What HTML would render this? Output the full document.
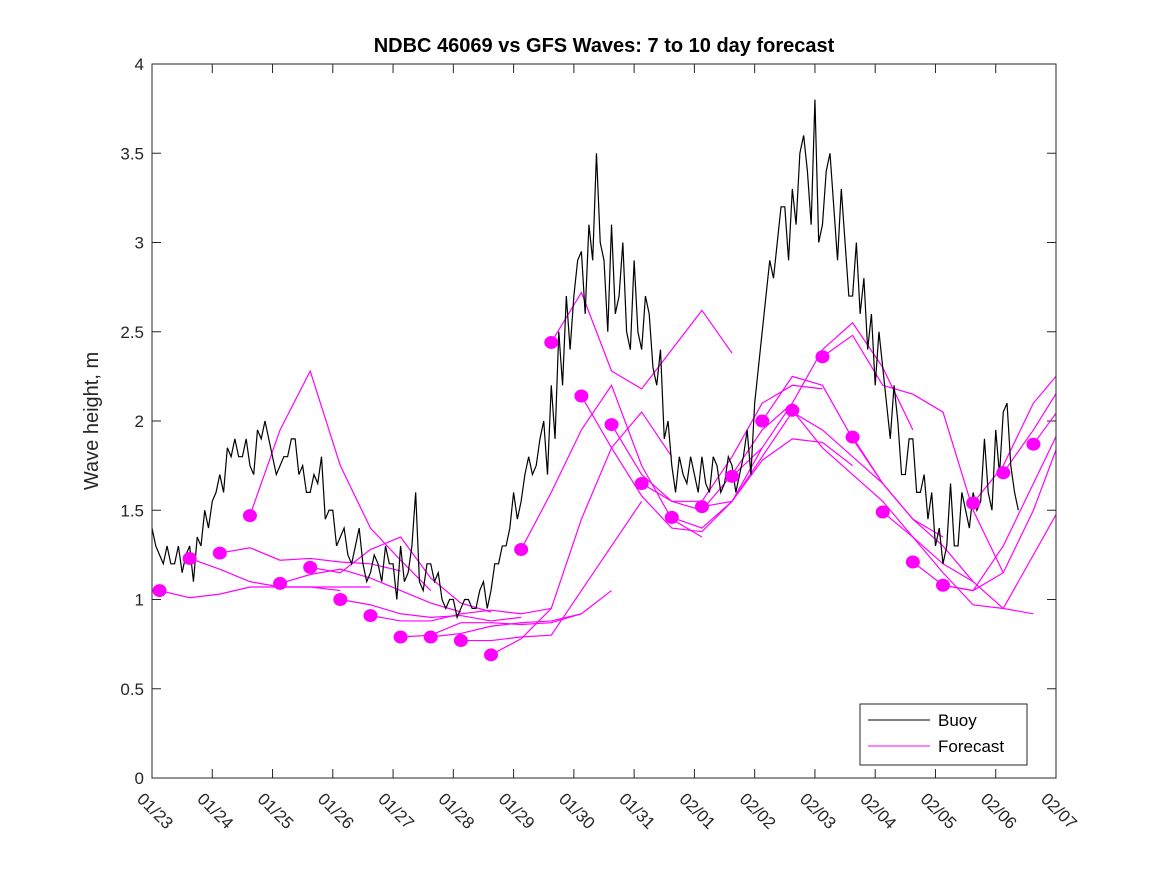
<!DOCTYPE html>
<html><head><meta charset="utf-8"><style>
body{margin:0;background:#fff}
svg{font-family:"Liberation Sans","DejaVu Sans",sans-serif}
</style></head><body>
<svg id="chart" width="1167" height="875" viewBox="0 0 1167 875" xmlns="http://www.w3.org/2000/svg">
<rect width="1167" height="875" fill="#fff"/>
<defs><clipPath id="pc"><rect x="152" y="64" width="904" height="714"/></clipPath></defs>
<text x="604" y="52" text-anchor="middle" font-size="20" font-weight="bold" fill="#000">NDBC 46069 vs GFS Waves: 7 to 10 day forecast</text>
<text transform="translate(98,421) rotate(-90)" text-anchor="middle" font-size="20" fill="#262626">Wave height, m</text>
<g id="axes"></g>
<g id="series" clip-path="url(#pc)"></g>
<rect x="152" y="64" width="904" height="714" fill="none" stroke="#262626" stroke-width="1"/>
<g>
<rect x="860" y="704" width="167" height="61" fill="#fff" stroke="#262626"/>
<line x1="868" y1="720" x2="930" y2="720" stroke="#000"/>
<text x="938" y="726" font-size="17" fill="#000">Buoy</text>
<line x1="868" y1="746" x2="930" y2="746" stroke="#ff00ff"/>
<text x="938" y="752" font-size="17" fill="#000">Forecast</text>
</g>
</svg>
<script>
const xTickLabels=["01/23","01/24","01/25","01/26","01/27","01/28","01/29","01/30","01/31","02/01","02/02","02/03","02/04","02/05","02/06","02/07"];
const yTicks=[0,0.5,1,1.5,2,2.5,3,3.5,4];
const buoyStart=0, buoyStep=0.0625;
const buoy=[1.4,1.3,1.25,1.2,1.3,1.2,1.2,1.3,1.15,1.25,1.3,1.1,1.35,1.3,1.5,1.4,
1.55,1.6,1.7,1.6,1.85,1.8,1.9,1.8,1.8,1.9,1.75,1.7,1.95,1.9,2.0,1.9,
1.8,1.7,1.75,1.8,1.8,1.9,1.9,1.7,1.75,1.6,1.6,1.7,1.65,1.8,1.45,1.5,
1.5,1.3,1.35,1.4,1.25,1.2,1.3,1.4,1.2,1.1,1.15,1.25,1.2,1.1,1.3,1.2,
1.2,1.0,1.3,1.1,1.15,1.3,1.6,1.1,1.05,1.2,1.2,1.1,1.15,1.0,0.95,1.0,
1.0,0.9,0.95,1.0,1.0,0.95,0.95,1.05,1.1,0.95,1.05,1.2,1.2,1.3,1.3,1.4,
1.6,1.45,1.55,1.7,1.8,1.7,1.75,1.9,2.0,1.7,2.2,1.9,2.5,2.2,2.7,2.4,
2.7,2.9,2.95,2.6,3.1,2.9,3.5,3.0,2.9,2.5,3.1,2.6,2.7,3.0,2.5,2.4,
2.9,2.5,2.4,2.7,2.6,2.3,2.2,2.4,1.9,2.0,1.75,1.6,1.8,1.7,1.65,1.8,
1.7,1.6,1.8,1.65,1.6,1.8,1.75,1.6,1.65,1.8,1.75,1.6,1.7,1.8,1.95,1.7,
2.1,2.3,2.5,2.7,2.9,2.8,3.0,3.2,3.2,2.9,3.3,3.1,3.5,3.6,3.4,3.1,
3.8,3.0,3.1,3.4,3.5,3.2,2.9,3.3,3.0,2.7,2.7,3.0,2.6,2.8,2.4,2.6,
2.2,2.5,2.3,2.1,1.9,2.2,2.0,1.7,1.7,1.9,1.9,1.6,1.6,1.7,1.45,1.6,
1.3,1.4,1.2,1.3,1.65,1.3,1.3,1.6,1.5,1.4,1.6,1.5,1.55,1.9,1.6,1.5,
1.95,1.7,2.05,2.1,1.75,1.6,1.5];
const fcStart=0.125, fcSpacing=0.5, fcStep=0.5;
const fcDots=[1.05,1.23,1.26,1.47,1.09,1.18,1.00,0.91,0.79,0.79,0.77,0.69,1.28,2.44,2.14,1.98,1.65,1.46,1.52,1.69,2.00,2.06,2.36,1.91,1.49,1.21,1.08,1.54,1.71,1.87];
const fcLines=[
[1.05,1.01,1.03,1.07,1.07,1.07,1.05],
[1.23,1.17,1.10,1.07,1.07,1.07,1.07],
[1.26,1.29,1.22,1.23,1.21,1.20,1.16],
[1.47,1.95,2.28,1.75,1.40,1.22,1.05],
[1.09,1.14,1.17,1.12,1.05,0.98,0.93],
[1.18,1.15,1.28,1.35,1.12,0.98,0.93],
[1.00,0.97,0.92,0.90,0.91,0.88,0.90],
[0.91,0.88,0.88,0.92,0.94,0.92,0.95],
[0.79,0.80,0.87,0.87,0.86,0.87,0.92],
[0.79,0.81,0.85,0.87,0.88,0.92,1.05],
[0.77,0.77,0.79,0.80,1.05,1.30,1.55],
[0.69,0.78,0.95,1.45,1.85,2.05,1.80],
[1.28,1.60,1.95,2.20,1.75,1.45,1.35],
[2.44,2.72,2.28,2.18,2.40,2.62,2.38],
[2.14,1.85,1.58,1.40,1.38,1.55,1.85],
[1.98,1.70,1.55,1.50,1.70,1.95,2.10],
[1.65,1.55,1.55,1.80,2.10,2.20,2.18],
[1.46,1.40,1.55,1.78,1.90,1.88,1.75],
[1.52,1.55,1.80,2.05,1.95,1.80,1.65],
[1.69,1.85,2.10,2.40,2.55,2.30,1.95],
[2.00,2.25,2.20,1.90,1.65,1.45,1.35],
[2.06,1.85,1.70,1.55,1.35,1.20,1.10],
[2.36,2.48,2.20,2.15,2.05,1.50,1.15],
[1.91,1.65,1.45,1.30,1.10,0.95,0.92],
[1.49,1.35,1.15,0.97,0.95,1.25,1.55],
[1.21,1.08,1.05,1.30,1.65,2.00,2.25],
[1.08,1.05,1.15,1.50,1.95,2.20,2.25],
[1.54,1.75,2.10,2.30,2.45],
[1.71,1.95,2.22],
[1.87,2.10]];
const X0=152,X1=1056,Y0=778,Y1=64,TMAX=15,YMAX=4;
const xs=t=>X0+(X1-X0)*t/TMAX;
const ys=v=>Y0-(Y0-Y1)*v/YMAX;
const NS="http://www.w3.org/2000/svg";
const axes=document.getElementById('axes'),series=document.getElementById('series');
function mk(tag,attrs,parent){const e=document.createElementNS(NS,tag);for(const k in attrs)e.setAttribute(k,attrs[k]);parent.appendChild(e);return e;}
yTicks.forEach(v=>{const y=ys(v);
 const l=mk('path',{d:`M${X0} ${y}h9M${X1} ${y}h-9`,stroke:'#262626'},axes);
 
 
 const t=mk('text',{x:X0-8,y:y+6,'text-anchor':'end','font-size':'17',fill:'#262626'},axes);
 t.textContent=String(v);
 
 
});
xTickLabels.forEach((lab,i)=>{const x=xs(i);
 const l=mk('path',{d:`M${x} ${Y0}v-9M${x} ${Y1}v9`,stroke:'#262626'},axes);
 
 
 const t=mk('text',{transform:`translate(${x-16},${Y0+22}) rotate(45)`,'font-size':'17',fill:'#262626'},axes);
 t.textContent=lab;
 
 
});
fcLines.forEach((arr,k)=>{const t0=fcStart+fcSpacing*k;
 const p=mk('polyline',{points:arr.map((v,j)=>xs(t0+fcStep*j)+','+ys(v)).join(' '),fill:'none',stroke:'#ff00ff','stroke-width':'1.2'},series);
 
 
});
const b=mk('polyline',{points:buoy.map((v,i)=>xs(buoyStart+buoyStep*i)+','+ys(v)).join(' '),fill:'none',stroke:'#000','stroke-width':'1.2'},series);


fcDots.forEach((v,k)=>{
 const c=mk('ellipse',{cx:xs(fcStart+fcSpacing*k),cy:ys(v),rx:7,ry:6.5,fill:'#ff00ff'},series);
 
 
});
</script>
</body></html>
